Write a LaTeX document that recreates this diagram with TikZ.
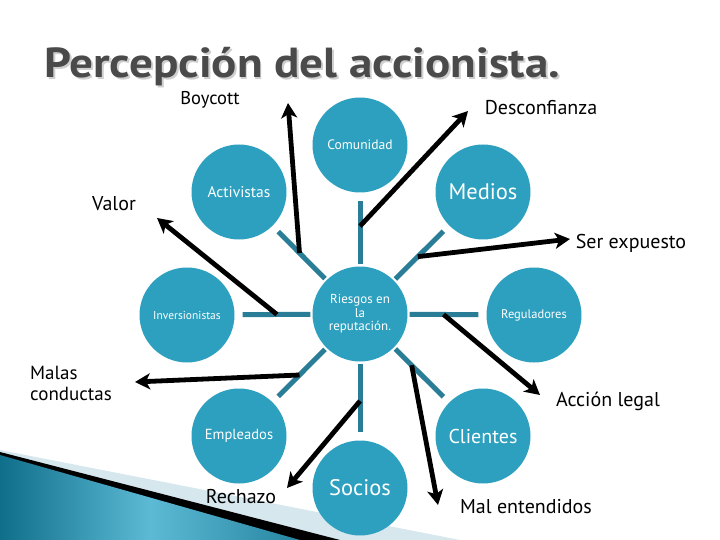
\documentclass[tikz,border=0pt]{standalone}
\usepackage{fontspec}
\setmainfont{PT Sans}
\usepackage{graphicx}
\usetikzlibrary{arrows.meta, calc}
\usepackage{xcolor}
\definecolor{bubble}{HTML}{2CA0BE}
\definecolor{spokecol}{HTML}{2A7D96}
\definecolor{titlegrey}{HTML}{4A4A4A}
\definecolor{shadowgrey}{HTML}{CFCFCF}
\definecolor{tealdark}{HTML}{0F6E8A}
\definecolor{teallight}{HTML}{5CBAD5}
\definecolor{paleblue}{HTML}{D6E7ED}
\newcommand{\titletext}{\scalebox{1.12}[1]{Percepción del accionista.}}

\begin{document}
\begin{tikzpicture}[
    x=1pt, y=-1pt,
    bubble/.style={circle, fill=bubble, minimum size=95pt, inner sep=0pt, text=white, align=center},
    spoke/.style={draw=spokecol, line width=5pt, shorten <=2pt, shorten >=8pt},
    effect/.style={font=\fontsize{20}{22}\selectfont, inner sep=0pt, text=black},
    headline/.style={anchor=base west, inner sep=0pt, font=\bfseries\fontsize{42}{42}\selectfont},
    line/.style={draw, line width=4.8pt, -{Stealth[length=15pt, width=16pt, inset=4pt]}}
]
\useasboundingbox (0,0) rectangle (720,540);

% Corner wedge
\fill[paleblue] (0,450) -- (460,540) -- (0,540) -- cycle;
\fill[black] (0,452) -- (340,540) -- (0,540) -- cycle;
\shade[left color=tealdark, right color=tealdark!70!teallight, middle color=teallight] (0,455) -- (300,540) -- (0,540) -- cycle;

% Title with its shadow
\node[headline, text=titlegrey] (title) at (44,78)
    {\rlap{\hspace{2pt}\raisebox{-2pt}{\textcolor{shadowgrey}{\titletext}}}\titletext};

% Nodes
\node[bubble, font=\fontsize{13}{13.5}\selectfont] (risk) at (360,314) {Riesgos en\\la\\reputación.};
\node[bubble, font=\fontsize{13.6}{15}\selectfont] (com) at (360,145) {Comunidad};
\node[bubble, font=\fontsize{15.5}{17}\selectfont] (act) at (239,192) {Activistas};
\node[bubble, font=\fontsize{22.5}{25}\selectfont] (med) at (483,192) {Medios};
\node[bubble, font=\fontsize{11.5}{13}\selectfont] (inv) at (187,315) {Inversionistas};
\node[bubble, font=\fontsize{12.5}{14}\selectfont] (reg) at (534,315) {Reguladores};
\node[bubble, font=\fontsize{14.6}{16}\selectfont] (emp) at (239,436) {Empleados};
\node[bubble, font=\fontsize{20}{23}\selectfont] (cli) at (483,436) {Clientes};
\node[bubble, font=\fontsize{22.5}{25}\selectfont] (soc) at (360,488) {Socios};

% Spokes
\foreach \n in {com, act, med, inv, reg, emp, cli, soc}
    \draw[spoke] (risk) -- (\n);

% Effects
\node[effect, font=\fontsize{18.5}{21}\selectfont] (lboy) at (210,100) {Boycott};
\node[effect] (ldes) at (541,108) {Desconfianza};
\node[effect] (lval) at (114,204) {Valor};
\node[effect] (lser) at (631,243) {Ser expuesto};
\node[effect, anchor=west, align=left, font=\fontsize{19}{21}\selectfont] (lmal) at (30,383) {Malas\\conductas};
\node[effect] (lacc) at (608,401) {Acción legal};
\node[effect] (lrec) at (241,497) {Rechazo};
\node[effect] (lment) at (526,507) {Mal entendidos};

% Arrow ends
\coordinate (sboy) at ($(risk)!0.5!(act)$);
\coordinate (sdes) at ($(risk)!0.52!(com)$);
\coordinate (sser) at ($(risk)!0.47!(med)$);
\coordinate (sval) at ($(risk)!0.48!(inv)$);
\coordinate (smal) at ($(risk)!0.5!(emp)$);
\coordinate (srec) at ($(risk)!0.5!(soc)$);
\coordinate (sment) at ($(risk)!0.42!(cli)$);
\coordinate (sacc) at ($(risk)!0.48!(reg)$);
\coordinate (tboy) at (288,103);
\coordinate (tdes) at (468,111);
\coordinate (tser) at (570,239);
\coordinate (tval) at (157,218);
\coordinate (tmal) at (135,382);
\coordinate (trec) at (287,488);
\coordinate (tment) at (438,505);
\coordinate (tacc) at (540,395);

% Arrows
\draw[line] (sboy) -- (tboy);
\draw[line] (sdes) -- (tdes);
\draw[line] (sser) -- (tser);
\draw[line] (sval) -- (tval);
\draw[line] (smal) -- (tmal);
\draw[line] (srec) -- (trec);
\draw[line] (sment) -- (tment);
\draw[line] (sacc) -- (tacc);

\end{tikzpicture}
\end{document}
